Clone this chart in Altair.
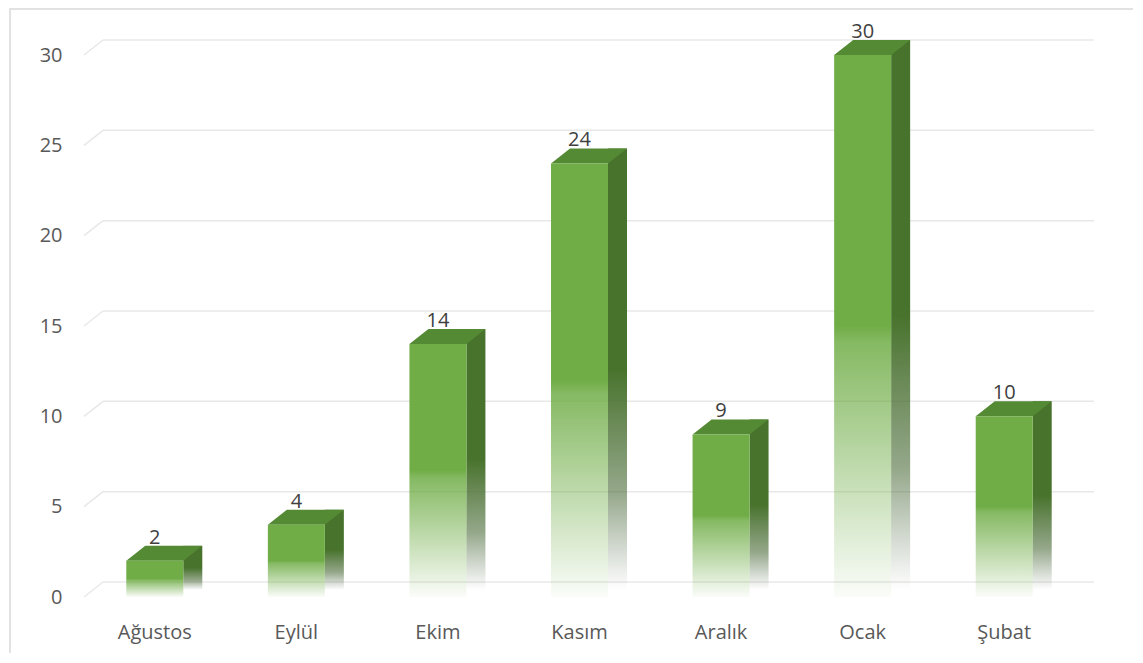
import altair as alt
import pandas as pd

months = ["Ağustos", "Eylül", "Ekim", "Kasım", "Aralık", "Ocak", "Şubat"]
values = [2, 4, 14, 24, 9, 30, 10]
ticks = [0, 5, 10, 15, 20, 25, 30]

df = pd.DataFrame({"month": months, "value": values, "zero": [0] * len(months)})
tdf = pd.DataFrame({"tick": ticks})

W, H = 991, 542
DX, DY = 19, 15
FRONT_W = 57

font = "Open Sans"
yscale = alt.Scale(domain=[0, 30], nice=False, zero=True)
yaxis = alt.Axis(grid=False, domain=False, ticks=False, tickSize=0, labelPadding=22,
                 values=ticks, labelFontSize=20, labelFont=font,
                 labelColor="#595959", title=None)
xaxis = alt.Axis(labelAngle=0, domain=False, ticks=False, tickSize=0, labelPadding=25,
                 labelFontSize=20, labelFont=font, labelColor="#595959", title=None)
xscale = alt.Scale(domain=months, paddingInner=0, paddingOuter=0)


def xenc():
    return alt.X("month:N", sort=months, scale=xscale, axis=xaxis)


def yenc(field):
    return alt.Y(field, scale=yscale, axis=yaxis)


front_grad = alt.Gradient(
    gradient="linear", x1=0, x2=0, y1=0, y2=1,
    stops=[
        alt.GradientStop(color="rgba(112,173,71,1)", offset=0),
        alt.GradientStop(color="rgba(112,173,71,1)", offset=0.5),
        alt.GradientStop(color="rgba(112,173,71,0.85)", offset=0.53),
        alt.GradientStop(color="rgba(112,173,71,0.03)", offset=1),
    ],
)
side_grad = alt.Gradient(
    gradient="linear", x1=0, x2=0, y1=0, y2=1,
    stops=[
        alt.GradientStop(color="rgba(72,115,44,1)", offset=0),
        alt.GradientStop(color="rgba(72,115,44,1)", offset=0.5),
        alt.GradientStop(color="rgba(78,110,60,0.6)", offset=0.78),
        alt.GradientStop(color="rgba(90,110,85,0.0)", offset=1),
    ],
)

border = alt.Chart(tdf).mark_rect(fill=None, stroke="#d9d9d9", strokeWidth=1.5).encode(
    x=alt.value(-74), x2=alt.value(1050), y=alt.value(-46), y2=alt.value(640)
).transform_filter(alt.datum.tick == 0)

grid_diag = alt.Chart(tdf).mark_rule(color="#e8e8e8", strokeWidth=1.5, y2Offset=-DY).encode(
    x=alt.value(0), x2=alt.value(DX),
    y=yenc("tick:Q"), y2="tick:Q",
)
grid_back = alt.Chart(tdf).mark_rule(color="#e8e8e8", strokeWidth=1.5, yOffset=-DY).encode(
    x=alt.value(DX), x2=alt.value(W + DX),
    y=yenc("tick:Q"),
)

base = alt.Chart(df)
side = base.mark_bar(size=DX, xOffset=FRONT_W / 2 + DX / 2, yOffset=-DY, y2Offset=-7,
                     color=side_grad).encode(
    x=xenc(), y=yenc("value:Q"), y2="zero:Q",
)
top_path = "M-1,0.1974 L0.5,0.1974 L1,-0.1974 L-0.5,-0.1974 Z"
top = base.mark_point(shape=top_path, size=(FRONT_W + DX) ** 2, filled=True, opacity=1,
                      color="#558a35", strokeWidth=0, xOffset=DX / 2, yOffset=-DY / 2).encode(
    x=xenc(), y=yenc("value:Q"),
)
front = base.mark_bar(size=FRONT_W, color=front_grad).encode(
    x=xenc(), y=yenc("value:Q"), y2="zero:Q",
)
labels = base.mark_text(dy=-17, baseline="alphabetic", fontSize=20, font=font,
                        color="#404040").encode(
    x=xenc(), y=yenc("value:Q"), text="value:Q",
)

chart = alt.layer(border, grid_diag, grid_back, side, top, front, labels).properties(
    width=W, height=H,
    autosize=alt.AutoSizeParams(type="none"),
    padding={"left": 76, "top": 47, "right": 58, "bottom": 56},
    background="white",
).configure_view(stroke=None)

chart.save("out.html", embed_options={"renderer": "svg", "actions": False})
